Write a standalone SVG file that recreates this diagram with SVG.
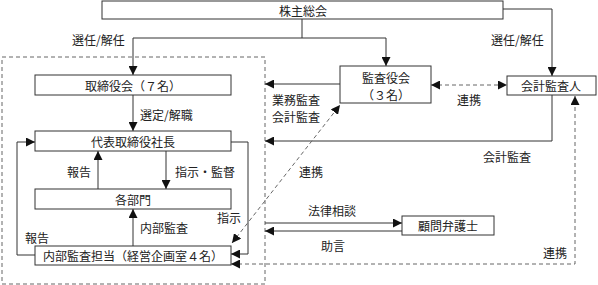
<svg xmlns="http://www.w3.org/2000/svg" width="598" height="285" viewBox="0 0 598 285">
<style>
text{font-family:"Noto Sans CJK JP","Noto Sans",sans-serif;font-size:12px;fill:#222;dominant-baseline:central}
.c{text-anchor:middle}
.box{fill:#fff;stroke:#333;stroke-width:1}
.ln{fill:none;stroke:#333;stroke-width:1}
.dl{fill:none;stroke:#666;stroke-width:1;stroke-dasharray:4,3}
</style>
<defs>
<marker id="ah" viewBox="0 0 10 10" refX="10" refY="5" markerWidth="9" markerHeight="9" markerUnits="userSpaceOnUse" orient="auto-start-reverse">
<path d="M0,0 L10,5 L0,10 z" fill="#111"/>
</marker>
</defs>
<rect class="dl" x="2" y="57" width="263" height="227"/>
<g id="connectors">
<path class="ln" d="M302,19 V38 M133,38 H386"/>
<path class="ln" d="M133,38 V75" marker-end="url(#ah)"/>
<path class="ln" d="M386,38 V66" marker-end="url(#ah)"/>
<path class="ln" d="M503,9 H552 V76" marker-end="url(#ah)"/>
<path class="ln" d="M133,95 V131" marker-end="url(#ah)"/>
<path class="ln" d="M98,189 V151" marker-end="url(#ah)"/>
<path class="ln" d="M166,151 V189" marker-end="url(#ah)"/>
<path class="ln" d="M133,246 V209" marker-end="url(#ah)"/>
<path class="ln" d="M35,255 H17 V142 H35" marker-end="url(#ah)"/>
<path class="ln" d="M231,142 H248 V254 H231" marker-end="url(#ah)"/>
<path class="ln" d="M340,84 H265" marker-end="url(#ah)"/>
<path class="ln" d="M552,95 V141 H265" marker-end="url(#ah)"/>
<path class="dl" d="M431,85 H507" marker-start="url(#ah)" marker-end="url(#ah)"/>
<path class="dl" d="M232,243 L340,105" marker-start="url(#ah)" marker-end="url(#ah)"/>
<path class="dl" d="M231,264 H575 V96" marker-start="url(#ah)" marker-end="url(#ah)"/>
<path class="ln" d="M265,223 H402" marker-end="url(#ah)"/>
<path class="ln" d="M402,231 H265" marker-end="url(#ah)"/>
</g>
<g id="labels">
<text x="72" y="39">選任/解任</text>
<text x="491" y="39">選任/解任</text>
<text x="140" y="114">選定/解職</text>
<text x="272" y="99">業務監査</text>
<text x="272" y="116">会計監査</text>
<text x="457" y="99">連携</text>
<text x="483" y="156">会計監査</text>
<text x="299" y="171">連携</text>
<text x="67" y="171">報告</text>
<text x="175" y="171">指示・監督</text>
<text x="217" y="217">指示</text>
<text x="140" y="227">内部監査</text>
<text x="25" y="237">報告</text>
<text x="308" y="210">法律相談</text>
<text x="321" y="245">助言</text>
<text x="543" y="252">連携</text>
</g>
<g id="kabunushi"><rect class="box" x="102" y="1" width="401" height="18"/><text class="c" x="303" y="10">株主総会</text></g>
<g id="torishimariyakukai"><rect class="box" x="35" y="75" width="196" height="20"/><text class="c" x="133" y="85">取締役会（７名）</text></g>
<g id="shacho"><rect class="box" x="35" y="131" width="196" height="20"/><text class="c" x="133" y="141">代表取締役社長</text></g>
<g id="kakubumon"><rect class="box" x="35" y="189" width="196" height="20"/><text class="c" x="133" y="199">各部門</text></g>
<g id="naibukansa"><rect class="box" x="35" y="246" width="196" height="19"/><text class="c" x="133" y="255.5">内部監査担当（経営企画室４名）</text></g>
<g id="kansayakukai"><rect class="box" x="340" y="66" width="91" height="37"/><text class="c" x="386" y="77">監査役会</text><text class="c" x="386" y="94">（３名）</text></g>
<g id="kaikeikansanin"><rect class="box" x="507" y="76" width="89" height="19"/><text class="c" x="551" y="85.5">会計監査人</text></g>
<g id="komon"><rect class="box" x="402" y="216" width="92" height="19"/><text class="c" x="448" y="225.5">顧問弁護士</text></g>
</svg>
